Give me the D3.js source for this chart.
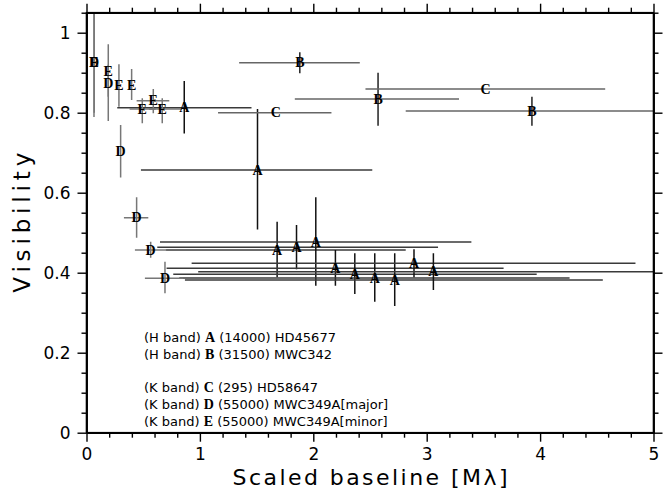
<!DOCTYPE html>
<html><head><meta charset="utf-8">
<script src="https://cdn.jsdelivr.net/npm/d3@7"></script>
<style>
body{margin:0;background:#fff;}
svg{display:block;}
</style></head>
<body><svg id="c" width="668" height="491"></svg>
<script>
// each row: [x, y, xLow, xHigh, yLow, yHigh]  (null = no bar)
const seriesA = [
  [0.862, 0.8125, 0.271, 1.455, 0.748, 0.879],
  [1.508, 0.657, 0.48, 2.52, 0.508, 0.809],
  [1.681, 0.457, 0.70, 2.815, 0.3885, 0.5275],
  [1.852, 0.4635, 0.624, 3.10, 0.4085, 0.519],
  [2.022, 0.477, 0.648, 3.394, 0.3675, 0.5885],
  [2.195, 0.411, 0.706, 3.678, 0.3675, 0.457],
  [2.366, 0.396, 0.765, 3.97, 0.347, 0.4485],
  [2.542, 0.387, 0.818, 4.26, 0.3275, 0.4485],
  [2.718, 0.382, 0.868, 4.553, 0.3168, 0.4485],
  [2.888, 0.4235, 0.927, 4.841, 0.3885, 0.4585],
  [3.059, 0.4025, 0.985, 5.3, 0.357, 0.4485]
];
const seriesB = [
  [1.881, 0.925, 1.346, 2.41, 0.8985, 0.951],
  [2.571, 0.834, 1.837, 3.285, 0.7675, 0.90],
  [3.928, 0.804, 2.815, 5.3, 0.7675, 0.84]
];
const seriesC = [
  [1.67, 0.80, 1.16, 2.16, null, null],
  [3.52, 0.859, 2.46, 4.574, null, null]
];
const seriesD = [
  [0.066, 0.926, null, null, 0.789, 1.10],
  [0.192, 0.873, null, null, 0.779, 0.92],
  [0.301, 0.7025, null, null, 0.638, 0.769],
  [0.442, 0.5375, 0.33, 0.545, 0.4875, 0.5885],
  [0.566, 0.457, 0.427, 0.706, 0.4375, 0.4775],
  [0.692, 0.386, 0.515, 0.853, 0.3485, 0.4275]
];
const seriesE = [
  [0.068, 0.926, null, null, 0.80, 1.10],
  [0.192, 0.903, null, null, 0.84, 0.971],
  [0.286, 0.869, null, null, 0.815, 0.921],
  [0.398, 0.869, null, null, 0.832, 0.909],
  [0.492, 0.809, 0.38, 0.61, 0.7735, 0.836],
  [0.589, 0.830, 0.442, 0.73, 0.7985, 0.859],
  [0.668, 0.809, 0.55, 0.84, 0.7735, 0.836]
];
const seriesLetters = ["A", "B", "C", "D", "E"];
const legendLines = [
  ["(H band) ", "A", " (14000) HD45677"],
  ["(H band) ", "B", " (31500) MWC342"],
  ["(K band) ", "C", " (295) HD58647"],
  ["(K band) ", "D", " (55000) MWC349A[major]"],
  ["(K band) ", "E", " (55000) MWC349A[minor]"]
];
const xTicks = [0, 1, 2, 3, 4, 5];
const yTicks = [0, 0.2, 0.4, 0.6, 0.8, 1];
const xLabel = "Scaled baseline [M\u03bb]";
const yLabel = "Visibility";

const svg = d3.select("#c");
const L = 86.5, R = 653.5, T = 12.7, B = 432.7;
const x = d3.scaleLinear().domain([0, 5]).range([L, R]);
const y = d3.scaleLinear().domain([0, 1.05]).range([B, T]);

const sans = "'DejaVu Sans', 'Liberation Sans', sans-serif";
const serif = "'Liberation Serif', 'DejaVu Serif', serif";

svg.append("defs").append("clipPath").attr("id", "clip")
  .append("rect").attr("x", L).attr("y", T).attr("width", R - L).attr("height", B - T);

const allSeries = [seriesA, seriesB, seriesC, seriesD, seriesE];
const hCol = ["#3a3a3a", "#666", "#666", "#777", "#777"];
const vCol = ["#111", "#222", "#222", "#777", "#777"];

const plot = svg.append("g").attr("clip-path", "url(#clip)");
allSeries.forEach((s, i) => {
  const g = plot.append("g");
  s.forEach(d => {
    if (d[2] !== null) g.append("line")
      .attr("x1", x(d[2])).attr("x2", x(d[3])).attr("y1", y(d[1])).attr("y2", y(d[1]))
      .attr("stroke", hCol[i]).attr("stroke-width", 1.5);
    if (d[4] !== null) g.append("line")
      .attr("x1", x(d[0])).attr("x2", x(d[0])).attr("y1", y(d[4])).attr("y2", y(d[5]))
      .attr("stroke", vCol[i]).attr("stroke-width", 1.5);
  });
});
allSeries.forEach((s, i) => {
  plot.append("g").selectAll("text").data(s).join("text")
    .attr("x", d => x(d[0])).attr("y", d => y(d[1]))
    .attr("dy", "0.34em")
    .attr("text-anchor", "middle")
    .attr("font-family", serif).attr("font-weight", "bold").attr("font-size", 14)
    .attr("fill", "#000")
    .text(seriesLetters[i]);
});

// axes (ticks outward on all four sides)
function styleAxis(g) {
  g.selectAll("path").attr("stroke", "#000").attr("stroke-width", 1.6);
  g.selectAll("line").attr("stroke", "#000").attr("stroke-width", 1.4);
}
const xMinor = d3.range(0, 5.001, 0.2).filter(v => Math.abs(v - Math.round(v)) > 1e-6);
const yMinor = d3.range(0, 1.0501, 0.05).filter(v => Math.abs(v * 5 - Math.round(v * 5)) > 1e-6);

const xb = svg.append("g").attr("transform", `translate(0,${B})`)
  .call(d3.axisBottom(x).tickValues(xTicks).tickSize(9).tickSizeOuter(0).tickPadding(6).tickFormat(d3.format("d")));
const xbm = svg.append("g").attr("transform", `translate(0,${B})`)
  .call(d3.axisBottom(x).tickValues(xMinor).tickSize(5).tickSizeOuter(0).tickFormat(""));
const xt = svg.append("g").attr("transform", `translate(0,${T})`)
  .call(d3.axisTop(x).tickValues(xTicks).tickSize(9).tickSizeOuter(0).tickFormat(""));
const xtm = svg.append("g").attr("transform", `translate(0,${T})`)
  .call(d3.axisTop(x).tickValues(xMinor).tickSize(5).tickSizeOuter(0).tickFormat(""));
const yl = svg.append("g").attr("transform", `translate(${L},0)`)
  .call(d3.axisLeft(y).tickValues(yTicks).tickSize(9).tickSizeOuter(0).tickPadding(7).tickFormat(d => String(+d.toFixed(1))));
const ylm = svg.append("g").attr("transform", `translate(${L},0)`)
  .call(d3.axisLeft(y).tickValues(yMinor).tickSize(5).tickSizeOuter(0).tickFormat(""));
const yr = svg.append("g").attr("transform", `translate(${R},0)`)
  .call(d3.axisRight(y).tickValues(yTicks).tickSize(9).tickSizeOuter(0).tickFormat(""));
const yrm = svg.append("g").attr("transform", `translate(${R},0)`)
  .call(d3.axisRight(y).tickValues(yMinor).tickSize(5).tickSizeOuter(0).tickFormat(""));
[xb, xbm, xt, xtm, yl, ylm, yr, yrm].forEach(styleAxis);
[xb, yl].forEach(g => g.selectAll("text").attr("font-family", sans).attr("font-size", 17).attr("fill", "#000"));

svg.append("rect").attr("x", L).attr("y", T).attr("width", R - L).attr("height", B - T)
  .attr("fill", "none").attr("stroke", "#000").attr("stroke-width", 1.6);

svg.append("text").attr("x", (L + R) / 2).attr("y", 485)
  .attr("text-anchor", "middle").attr("font-family", sans).attr("font-size", 22).attr("fill", "#000")
  .attr("textLength", 275).attr("lengthAdjust", "spacing")
  .text(xLabel);
svg.append("text").attr("transform", `translate(30,${(T + B) / 2}) rotate(-90)`)
  .attr("text-anchor", "middle").attr("font-family", sans).attr("font-size", 23).attr("fill", "#000")
  .attr("textLength", 140).attr("lengthAdjust", "spacing")
  .text(yLabel);

// legend
const legendY = [337, 354, 387, 404, 421];
legendLines.forEach((ln, i) => {
  const t = svg.append("text").attr("x", 144).attr("y", legendY[i]).attr("dy", "0.35em")
    .attr("font-family", sans).attr("font-size", 13).attr("fill", "#000");
  t.append("tspan").text(ln[0]);
  t.append("tspan").attr("font-family", serif).attr("font-weight", "bold").attr("font-size", 14).text(ln[1]);
  t.append("tspan").text(ln[2]);
});
</script></body></html>
